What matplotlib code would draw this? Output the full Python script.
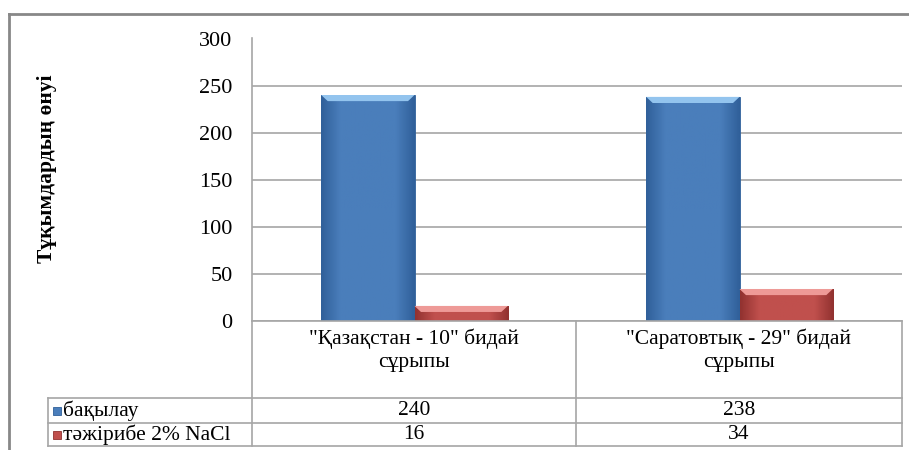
import matplotlib
matplotlib.use("Agg")
import matplotlib.pyplot as plt
import numpy as np
from matplotlib.lines import Line2D
from matplotlib.patches import Rectangle, Polygon
from matplotlib.colors import LinearSegmentedColormap

FONT = 'Liberation Serif'
plt.rcParams['font.family'] = FONT

categories = ['"Қазақстан - 10" бидай\nсұрыпы', '"Саратовтық - 29" бидай\nсұрыпы']
series_names = ['бақылау', 'тәжірибе 2% NaCl']
control = [240, 238]
nacl = [16, 34]
yticks = [0, 50, 100, 150, 200, 250, 300]
ylabel = 'Тұқымдардың өнуі'

W, H = 909, 450
fig = plt.figure(figsize=(W / 100, H / 100), dpi=100)

def fx(px):
    return px / W

def fy(py):
    return 1 - py / H

FS = 15.5
L, R, T, B = 252, 902, 38.5, 321
ax = fig.add_axes([fx(L), fy(B), fx(R - L), fy(T) - fy(B)])

x = np.arange(len(categories))
bw = 0.287
main_cols = ['#4A7EBB', '#C0504D']
light_cols = ['#93C4EE', '#EE9A97']
dark_cols = ['#30609A', '#923230']

bars1 = ax.bar(x - bw / 2, control, bw, color=main_cols[0], edgecolor=dark_cols[0], linewidth=0.6, zorder=3)
bars2 = ax.bar(x + bw / 2, nacl, bw, color=main_cols[1], edgecolor=dark_cols[1], linewidth=0.6, zorder=3)

ax.set_xlim(-0.5, len(categories) - 0.5)
ax.set_ylim(0, 300)

# bevel-like shading
for bars, i in ((bars1, 0), (bars2, 1)):
    cmap_h = LinearSegmentedColormap.from_list('h', [dark_cols[i], main_cols[i], main_cols[i], main_cols[i], main_cols[i], dark_cols[i]])
    for b in bars:
        x0, y0 = b.get_x(), b.get_y()
        w, h = b.get_width(), b.get_height()
        grad = np.linspace(0, 1, 64).reshape(1, -1)
        im = ax.imshow(grad, extent=[x0, x0 + w, y0, y0 + h], aspect='auto', cmap=cmap_h, zorder=3.5, origin='lower')
        im.set_clip_path(b)
        dy = min(6.5, h * 0.4)
        dx = 0.02
        top = y0 + h
        ax.add_patch(Polygon([(x0, top), (x0 + w, top), (x0 + w - dx, top - dy), (x0 + dx, top - dy)],
                             closed=True, facecolor=light_cols[i], edgecolor='none', zorder=3.8))

ax.set_yticks(yticks)
ax.set_yticklabels([str(v) for v in yticks], fontsize=16, fontfamily=FONT)
ax.tick_params(axis='y', length=0, pad=14)
ax.set_xticks([])
ax.grid(axis='y', color='#A6A6A6', linewidth=1.2, zorder=0)
for s in ['top', 'right', 'bottom']:
    ax.spines[s].set_visible(False)
ax.spines['left'].set_color('#A6A6A6')
ax.spines['left'].set_linewidth(1.2)

fig.text(fx(47), fy(169), ylabel, rotation=90, ha='center', va='center', fontsize=FS, fontweight='bold', fontfamily=FONT)

# table
lc = '#A6A6A6'
lw = 1.2
def hline(y, x0, x1, c=lc, w=lw):
    fig.add_artist(Line2D([fx(x0), fx(x1)], [fy(y), fy(y)], color=c, linewidth=w))
def vline(xp, y0, y1, c=lc, w=lw):
    fig.add_artist(Line2D([fx(xp), fx(xp)], [fy(y0), fy(y1)], color=c, linewidth=w))

col_edges = [L, 576, R]
row_y = [B, 398, 423, 446]
hline(B, L, R)
hline(398, 48, R)
hline(423, 48, R)
hline(446, 48, R)
vline(48, 398, 446)
for ce in col_edges:
    vline(ce, B, 446)

for i, cat in enumerate(categories):
    cx = (col_edges[i] + col_edges[i + 1]) / 2
    fig.text(fx(cx), fy(350), cat, ha='center', va='center', fontsize=FS, linespacing=1.25, fontfamily=FONT)

for r, (name, vals) in enumerate(zip(series_names, [control, nacl])):
    cy = (row_y[r + 1] + row_y[r + 2]) / 2
    fig.add_artist(Rectangle((fx(53), fy(cy + 4)), fx(8), fy(cy - 4) - fy(cy + 4), facecolor=main_cols[r],
                             edgecolor=dark_cols[r], linewidth=0.6, transform=fig.transFigure))
    fig.text(fx(63), fy(cy), name, ha='left', va='center', fontsize=FS, fontfamily=FONT)
    for i, v in enumerate(vals):
        cx = (col_edges[i] + col_edges[i + 1]) / 2
        fig.text(fx(cx), fy(cy), str(v), ha='center', va='center', fontsize=FS, fontfamily=FONT)

# outer frame
hline(14, 9, 909, c='#888888', w=2)
vline(9, 14, 450, c='#888888', w=2)

fig.savefig('out.png', dpi=100)
